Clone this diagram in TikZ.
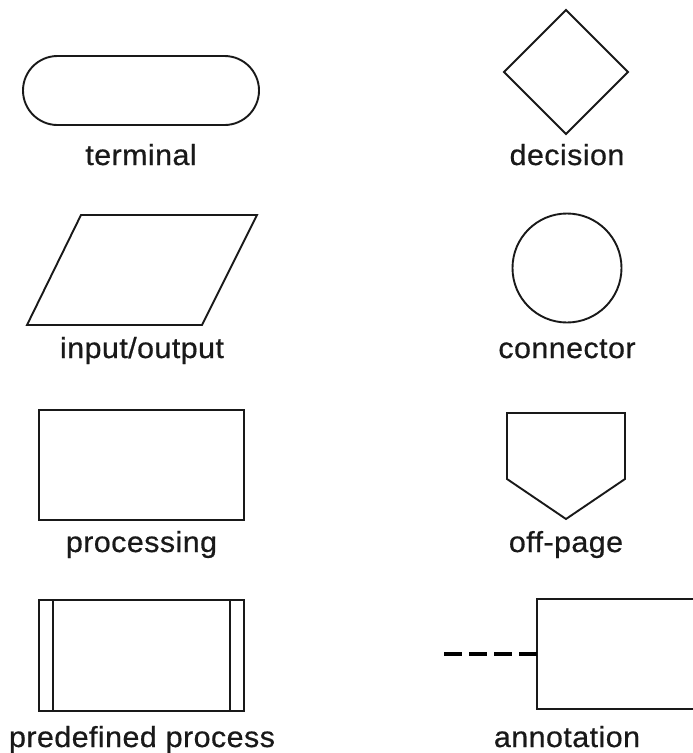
\documentclass[tikz,border=0pt]{standalone}
\usepackage{fontspec}
\setmainfont{Liberation Sans}[LetterSpace=1.5,FakeStretch=1.05,FakeBold=0.6]
\usetikzlibrary{shapes.misc,shapes.geometric}
\begin{document}
\begin{tikzpicture}[x=1pt,y=-1pt,
  shp/.style={draw=black!90,line width=1.9pt,inner sep=0pt,outer sep=0pt},
  lbl/.style={anchor=base,inner sep=0pt,text=black!90,font=\fontsize{29}{33}\selectfont}]
\useasboundingbox (0,0) rectangle (693,753);
% left column
\node[shp,rounded rectangle,minimum width=236pt,minimum height=69pt] (term) at (141,90.5) {};
\node[lbl] (termL) at (141,165) {terminal};
\draw[shp,line join=miter] (81,215) coordinate (io1) -- (257,215) coordinate (io2) -- (202,325) coordinate (io3) -- (27,325) coordinate (io4) -- cycle;
\node[lbl] (ioL) at (142,358) {input/output};
\node[shp,rectangle,minimum width=205pt,minimum height=110pt] (proc) at (141.5,465) {};
\node[lbl] (procL) at (141.5,552) {processing};
\node[shp,rectangle,minimum width=205pt,minimum height=111pt] (pre) at (141.5,655.5) {};
\draw[shp] ([xshift=14pt]pre.north west) -- ([xshift=14pt]pre.south west);
\draw[shp] ([xshift=-14pt]pre.north east) -- ([xshift=-14pt]pre.south east);
\node[lbl] (preL) at (142,747) {predefined process};
% right column
\node[shp,diamond,minimum width=124pt,minimum height=124pt] (dec) at (566,72) {};
\node[lbl] (decL) at (567,165) {decision};
\node[shp,circle,minimum size=109pt] (con) at (567,268) {};
\node[lbl] (conL) at (567,358) {connector};
\draw[shp,line join=miter] (507,413) coordinate (op1) -- (625,413) coordinate (op2) -- (625,479) coordinate (op3) -- (566,519) coordinate (op4) -- (507,479) coordinate (op5) -- cycle;
\node[lbl] (opL) at (566,552) {off-page};
\coordinate (annTR) at (700,599);
\coordinate (annBR) at (700,709);
\coordinate (annTL) at (537,599);
\coordinate (annBL) at (537,709);
\coordinate (annW) at (537,654);
\coordinate (dashS) at (444,654);
\draw[shp] (annTR) -- (annTL) -- (annBL) -- (annBR);
\draw[line width=4pt,dash pattern=on 18pt off 7pt] (dashS) -- (annW);
\node[lbl] (annL) at (567,747) {annotation};
\end{tikzpicture}
\end{document}
